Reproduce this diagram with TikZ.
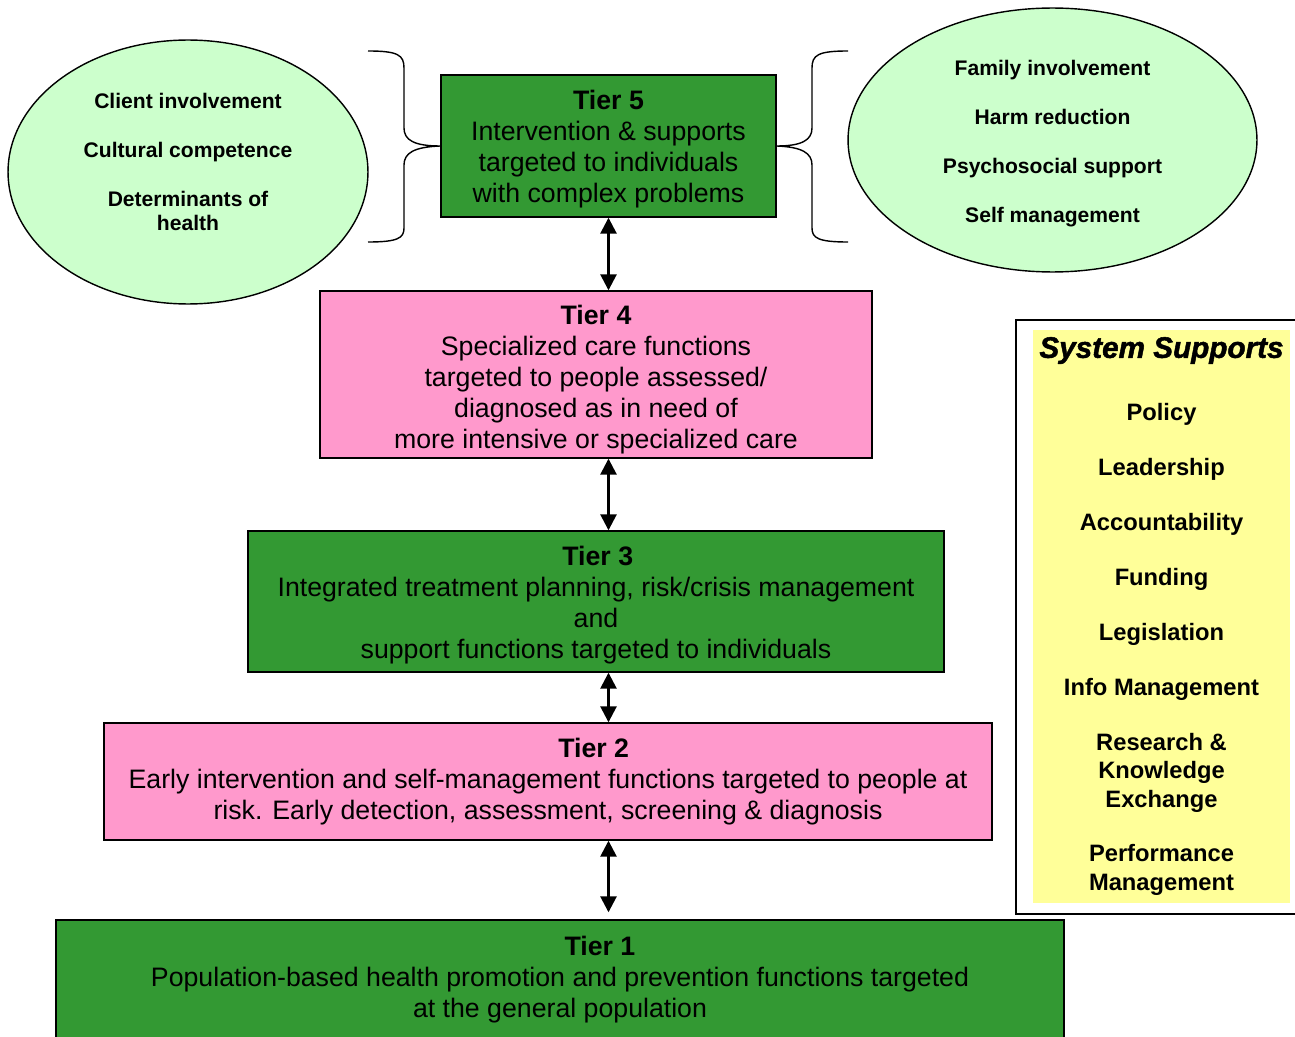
\documentclass[tikz,border=0pt]{standalone}
\usepackage{fontspec}
\setmainfont{Liberation Sans}
\newfontfamily\heavyfont[BoldItalicFeatures={FakeBold=1.6}]{Liberation Sans}
\usetikzlibrary{arrows.meta,shapes.geometric}

\definecolor{tiergreen}{HTML}{339933}
\definecolor{tierpink}{HTML}{FF99CC}
\definecolor{bubblegreen}{HTML}{CCFFCC}
\definecolor{supportyellow}{HTML}{FFFF99}

\begin{document}
\begin{tikzpicture}[
    x=0.02cm, y=-0.02cm,
    tier/.style={rectangle, draw, line width=0.8pt, align=center, inner sep=0pt, font=\fontsize{15.2}{17.6}\selectfont},
    bubble/.style={ellipse, draw, line width=0.8pt, fill=bubblegreen, align=center, inner sep=0pt, font=\fontsize{12}{13.7}\selectfont\bfseries},
    brace/.style={line width=0.8pt},
    link/.style={{Triangle[length=3.2mm,width=3.2mm]}-{Triangle[length=3.2mm,width=3.2mm]}, line width=1.5pt}
]
\useasboundingbox (0,0) rectangle (1295,1037);

% the five tiers
\node[tier, fill=tiergreen, minimum width=6.7cm, minimum height=2.84cm] (tier5) at (608.5,146)
    {\rule{0pt}{14.3pt}\textbf{Tier 5}\\Intervention \& supports\\targeted to individuals\\with complex problems};
\node[tier, fill=tierpink, minimum width=11.04cm, minimum height=3.34cm] (tier4) at (596,374.5)
    {\rule{0pt}{16.6pt}\textbf{Tier 4}\\Specialized care functions\\targeted to people assessed/\\diagnosed as in need of\\more intensive or specialized care};
\node[tier, fill=tiergreen, minimum width=13.92cm, minimum height=2.82cm] (tier3) at (596,601.5)
    {\rule{0pt}{14.8pt}\hspace*{2pt}\textbf{Tier 3}\\Integrated treatment planning, risk/crisis management\\and\\support functions targeted to individuals};
\node[tier, fill=tierpink, minimum width=17.76cm, minimum height=2.34cm] (tier2) at (548,781.5)
    {\hspace*{52pt}\textbf{Tier 2}\\Early intervention and self-management functions targeted to people at\\risk. Early detection, assessment, screening \& diagnosis};
\node[tier, fill=tiergreen, minimum width=20.16cm, minimum height=2.88cm] (tier1) at (560,992)
    {\hspace*{45.5pt}\textbf{Tier 1}\\Population-based health promotion and prevention functions targeted\\at the general population\\\mbox{}};

% bubbles
\node[bubble, minimum width=7.2cm, minimum height=5.28cm] (client) at (188,172)
    {Client involvement\\[14.2pt]Cultural competence\\[14.2pt]Determinants of\\health\\[-1.7pt]\mbox{}};
\node[bubble, minimum width=8.18cm, minimum height=5.28cm] (family) at (1052.5,140)
    {\rule{0pt}{13.3pt}Family involvement\\[14.2pt]Harm reduction\\[14.2pt]Psychosocial support\\[14.2pt]Self management};

% system supports
\node[draw, line width=1.2pt, minimum width=5.68cm, minimum height=11.88cm] (frame) at (1158,617) {};
\node[fill=supportyellow, minimum width=5.14cm, minimum height=11.46cm, align=center, inner sep=0pt,
      font=\fontsize{13.5}{16}\selectfont\bfseries] (supports) at (1161.5,616.5)
    {{\heavyfont\fontsize{16.9}{16}\selectfont\bfseries\itshape System Supports}\\[19.9pt]Policy\\[15.3pt]Leadership\\[15.3pt]Accountability\\[15.3pt]Funding\\[15.3pt]Legislation\\[15.3pt]Info Management\\[15.3pt]Research \&\\Knowledge\\Exchange\\[14.7pt]Performance\\[1pt]Management};

% braces
\draw[brace] (368,51) .. controls (398,51) and (404,55) .. (404,68) -- (404,128)
    .. controls (404,140) and (414,146) .. (tier5.west)
    .. controls (414,147) and (404,153) .. (404,165) -- (404,228)
    .. controls (404,238) and (398,242) .. (368,242);
\draw[brace] (848,51) .. controls (818,51) and (812,55) .. (812,68) -- (812,128)
    .. controls (812,140) and (802,146) .. (tier5.east)
    .. controls (802,147) and (812,153) .. (812,165) -- (812,228)
    .. controls (812,238) and (818,242) .. (848,242);

\draw[link] (tier5.south) -- (tier5.south |- tier4.north);
\draw[link] (tier4.south -| tier5.south) -- (tier3.north -| tier5.south);
\draw[link] (tier3.south -| tier5.south) -- (tier2.north -| tier5.south);
\draw[link, shorten >=1.4mm] (tier2.south -| tier5.south) -- (tier1.north -| tier5.south);
\end{tikzpicture}
\end{document}
